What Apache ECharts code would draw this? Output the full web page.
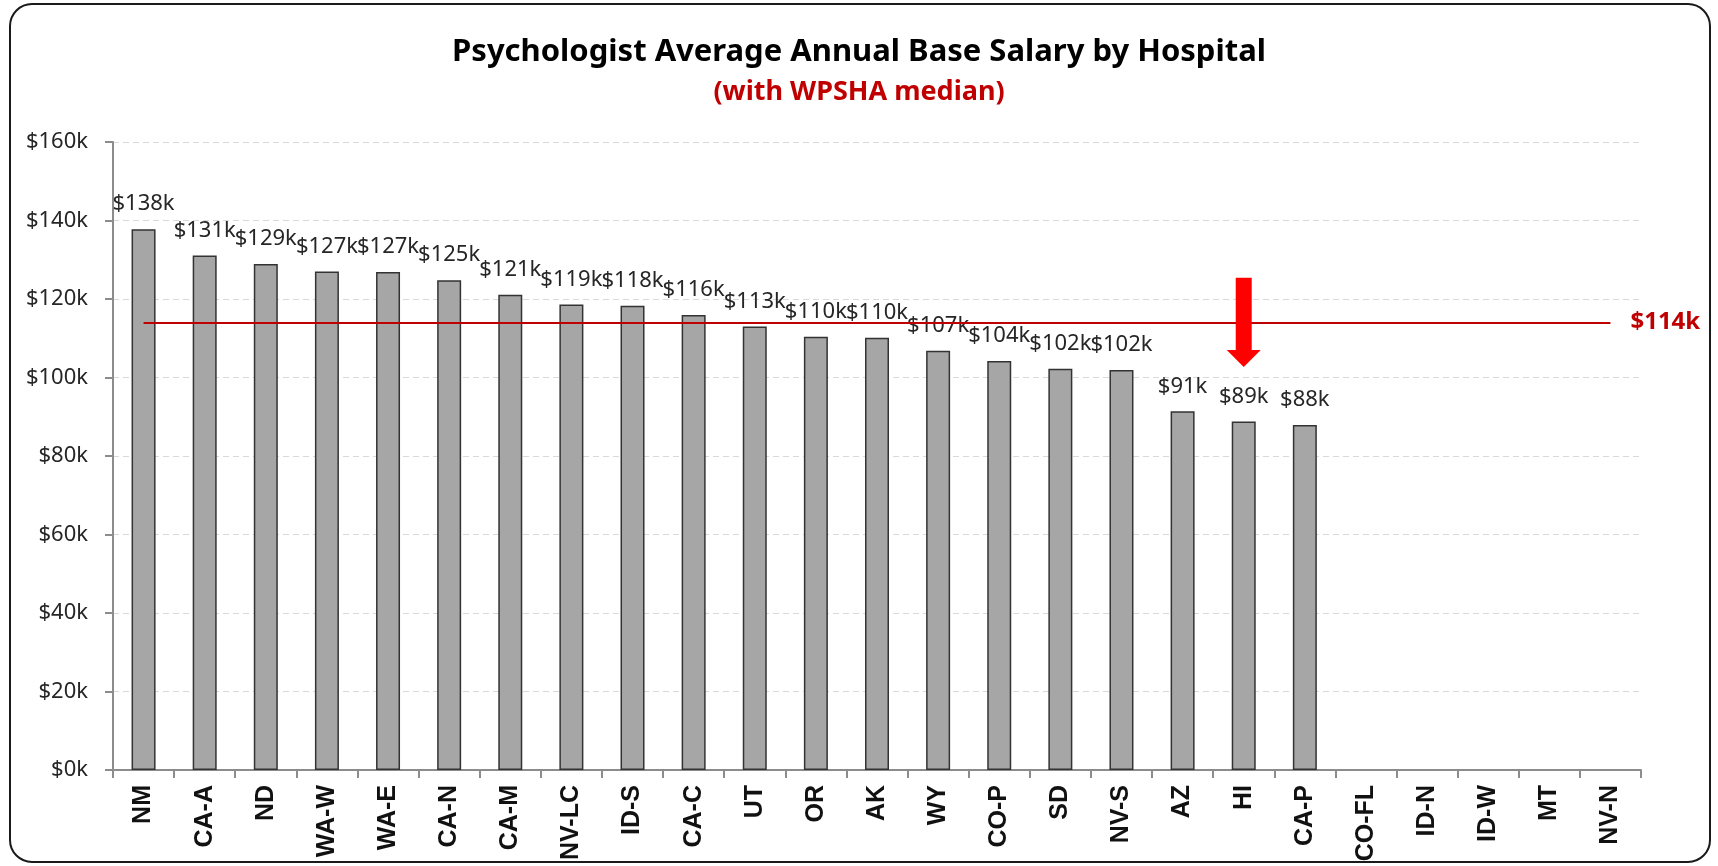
<!DOCTYPE html>
<html>
<head>
<meta charset="utf-8">
<script src="https://cdn.jsdelivr.net/npm/echarts@6/dist/echarts.min.js"></script>
<style>
  html, body { margin:0; padding:0; background:#fff; }
  #chart { width:1718px; height:866px; }
</style>
</head>
<body>
<div id="chart"></div>
<script>
// hospitals, left to right
const hospitals = ['NM','CA-A','ND','WA-W','WA-E','CA-N','CA-M','NV-LC','ID-S','CA-C','UT','OR','AK','WY','CO-P','SD','NV-S','AZ','HI','CA-P','CO-FL','ID-N','ID-W','MT','NV-N']
// average annual base salary, $ thousands (no data for the last five)
const salary = [137.8,131.1,128.9,127.0,126.9,124.8,121.1,118.6,118.3,115.9,113.0,110.4,110.1,106.8,104.2,102.2,101.9,91.4,88.8,87.9,null,null,null,null,null]
// WPSHA median, $ thousands
const median = 114
// arrow pointing at HI: [category, tail, head start, tip]
const arrow = [['HI', 125.4, 107.0, 102.7]]
const yTicks = [0,20,40,60,80,100,120,140,160]

const money = v => '$' + Math.round(v) + 'k'

let chart = echarts.init(document.getElementById('chart'))
chart.setOption({
  backgroundColor: '#fff',
  animation: false,
  title: {
    text: 'Psychologist Average Annual Base Salary by Hospital',
    subtext: '(with WPSHA median)',
    left: 'center',
    top: 32,
    itemGap: 11,
    textStyle: { fontFamily: 'Noto Sans', fontWeight: 'bold', fontSize: 31, color: '#000' },
    subtextStyle: { fontFamily: 'Noto Sans', fontWeight: 'bold', fontSize: 27, color: '#c00000' }
  },
  graphic: [{
    type: 'rect',
    shape: { x: 10, y: 4, width: 1700, height: 858, r: 22 },
    style: { fill: 'none', stroke: '#1a1a1a', lineWidth: 2 },
    silent: true
  }],
  grid: { left: 113, right: 77, top: 142, bottom: 96, containLabel: false },
  xAxis: {
    type: 'category',
    data: hospitals,
    axisLine: { lineStyle: { color: '#8c8c8c', width: 2 } },
    axisTick: { show: true, length: 8, lineStyle: { color: '#8c8c8c', width: 2 } },
    axisLabel: {
      rotate: 90, interval: 0, margin: 15,
      fontFamily: 'Liberation Sans', fontSize: 25, fontWeight: 'bold', color: '#111'
    }
  },
  yAxis: {
    type: 'value',
    min: 0, max: 160, interval: 20,
    axisLine: { show: true, lineStyle: { color: '#8c8c8c', width: 2 } },
    axisTick: { show: true, length: 8, lineStyle: { color: '#8c8c8c', width: 2 } },
    axisLabel: {
      margin: 25, fontFamily: 'Noto Sans', fontSize: 22, color: '#262626',
      formatter: v => yTicks.includes(v) ? money(v) : ''
    },
    splitLine: { lineStyle: { color: '#d9d9d9', type: [6, 4], width: 1 } }
  },
  series: [
    {
      type: 'bar',
      data: salary,
      barWidth: 24,
      itemStyle: { color: '#a6a6a6', borderColor: '#333', borderWidth: 1.5 },
      label: {
        show: true, position: 'top', distance: 14,
        fontFamily: 'Noto Sans', fontSize: 22, color: '#262626',
        formatter: p => p.value == null ? '' : money(p.value)
      },
      markLine: {
        silent: true,
        symbol: 'none',
        lineStyle: { color: '#c00000', width: 2, type: 'solid' },
        label: {
          show: true, position: 'end', distance: 20,
          fontFamily: 'Noto Sans', fontSize: 24, fontWeight: 'bold', color: '#c00000',
          formatter: () => money(median)
        },
        data: [[
          { xAxis: hospitals[0], yAxis: median },
          { xAxis: hospitals[hospitals.length - 1], yAxis: median }
        ]]
      }
    },
    {
      type: 'custom',
      data: arrow,
      silent: true,
      z: 5,
      renderItem: (params, api) => {
        const x = api.value(0)
        const tail = api.coord([x, api.value(1)])
        const neck = api.coord([x, api.value(2)])
        const tip = api.coord([x, api.value(3)])
        const sw = 8, hw = 17
        return {
          type: 'polygon',
          shape: { points: [
            [tail[0] - sw, tail[1]], [tail[0] + sw, tail[1]],
            [neck[0] + sw, neck[1]], [neck[0] + hw, neck[1]],
            [tip[0], tip[1]],
            [neck[0] - hw, neck[1]], [neck[0] - sw, neck[1]]
          ] },
          style: { fill: '#ff0000' }
        }
      }
    }
  ]
})
</script>
</body>
</html>
